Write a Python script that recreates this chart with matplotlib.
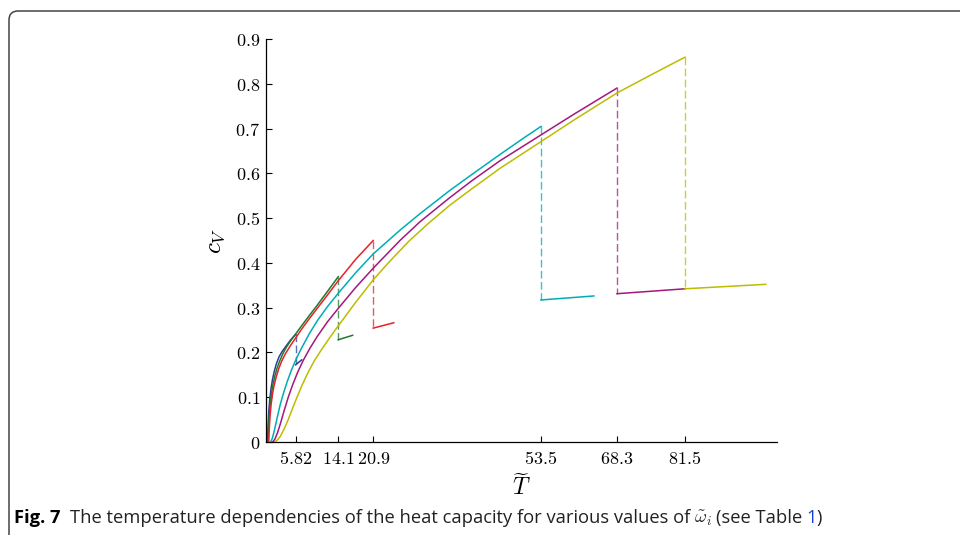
import matplotlib
matplotlib.use("Agg")
import matplotlib.pyplot as plt
from matplotlib.patches import FancyBboxPatch
from matplotlib.transforms import IdentityTransform

plt.rcParams["mathtext.fontset"] = "cm"

# transition temperatures (tick positions)
tc_ticks = [5.82, 14.1, 20.9, 53.5, 68.3, 81.5]
tc_labels = ["5.82", "14.1", "20.9", "53.5", "68.3", "81.5"]
y_ticks = [0, 0.1, 0.2, 0.3, 0.4, 0.5, 0.6, 0.7, 0.8, 0.9]

# curves below the transition
t_blue = [0.35, 0.45, 0.6, 0.8, 1.05, 1.35, 1.7, 2.1, 2.6, 3.2, 3.9, 4.8, 5.82]
c_blue = [0.0, 0.035, 0.068, 0.096, 0.12, 0.141, 0.159, 0.175, 0.19, 0.202, 0.213, 0.227, 0.24]

t_green = [0.45, 0.55, 0.7, 0.9, 1.15, 1.45, 1.8, 2.2, 2.7, 3.3, 4.0, 4.8, 5.82, 7.0, 8.4, 10.0, 12.0, 14.1]
c_green = [0.0, 0.03, 0.06, 0.087, 0.11, 0.13, 0.148, 0.164, 0.18, 0.196, 0.211, 0.225, 0.241,
           0.2595, 0.281, 0.305, 0.336, 0.369]

t_red = [0.6, 0.7, 0.85, 1.05, 1.3, 1.6, 2.0, 2.5, 3.1, 3.8, 4.7, 5.82, 7.0, 8.4, 10.0, 12.0, 14.1, 17.5, 20.9]
c_red = [0.0, 0.03, 0.058, 0.083, 0.105, 0.124, 0.143, 0.162, 0.18, 0.196, 0.213, 0.232, 0.252, 0.274,
         0.298, 0.328, 0.36, 0.408, 0.45]

t_cyan = [1.0, 1.3, 1.7, 2.2, 2.8, 3.5, 4.2, 5.0, 6.0, 7.0, 8.5, 10.0, 12.0, 14.1, 17.5, 20.9,
          26.1, 30.0, 35.8, 40.0, 45.5, 50.0, 53.5]
c_cyan = [0.0, 0.008, 0.026, 0.052, 0.082, 0.11, 0.135, 0.16, 0.187, 0.21, 0.242, 0.27, 0.302, 0.332,
          0.378, 0.42, 0.473, 0.51, 0.562, 0.597, 0.642, 0.678, 0.705]

t_mag = [1.4, 1.8, 2.3, 2.9, 3.6, 4.4, 5.2, 6.2, 7.3, 8.6, 10.0, 12.0, 14.1, 17.5, 20.9, 26.1,
         30.0, 35.8, 40.0, 45.5, 53.5, 60.0, 68.3]
c_mag = [0.0, 0.006, 0.02, 0.042, 0.07, 0.1, 0.126, 0.155, 0.182, 0.209, 0.235, 0.268, 0.298, 0.345,
         0.388, 0.45, 0.492, 0.546, 0.583, 0.628, 0.686, 0.733, 0.791]

t_yel = [1.8, 2.3, 2.9, 3.6, 4.4, 5.2, 6.1, 7.1, 8.2, 9.4, 10.8, 12.4, 14.1, 17.5, 20.9, 24.0, 27.8,
         31.5, 35.8, 40.0, 45.5, 53.5, 60.0, 68.3, 75.0, 81.5]
c_yel = [0.0, 0.004, 0.013, 0.029, 0.05, 0.074, 0.1, 0.127, 0.154, 0.18, 0.205, 0.232, 0.259, 0.312,
         0.362, 0.402, 0.448, 0.487, 0.529, 0.565, 0.611, 0.671, 0.72, 0.78, 0.821, 0.86]

# short branches above the transition: (T start, T end), (c start, c end)
t_after = [(5.82, 7.0), (14.1, 16.9), (20.9, 24.9), (53.5, 63.8), (68.3, 81.5), (81.5, 97.2)]
c_after = [(0.172, 0.183), (0.228, 0.238), (0.254, 0.266), (0.317, 0.326), (0.331, 0.342), (0.342, 0.352)]

colors = ["#2b3f9c", "#1f7a2a", "#e8202a", "#00adb5", "#a3187c", "#bcbc00"]
curves = [(t_blue, c_blue), (t_green, c_green), (t_red, c_red),
          (t_cyan, c_cyan), (t_mag, c_mag), (t_yel, c_yel)]

fig = plt.figure(figsize=(9.6, 5.35), dpi=100)
ax = fig.add_axes([265.7 / 960, 93.3 / 535, (777 - 265.7) / 960, (495.7 - 93.3) / 535])

for (t, c), ta, ca, col in zip(curves, t_after, c_after, colors):
    ax.plot(t, c, color=col, lw=1.1, solid_joinstyle="round")
    ax.plot([t[-1], t[-1]], [c[-1], ca[0]], color=col, lw=1.0, alpha=0.75,
            dashes=(5.5, 2.5))
    ax.plot(ta, ca, color=col, lw=1.1)

ax.set_xlim(0, 99.4)
ax.set_ylim(0, 0.9)
ax.set_xticks(tc_ticks)
ax.set_xticklabels([f"${s}$" for s in tc_labels], fontsize=13)
ax.set_yticks(y_ticks)
ax.set_yticklabels([f"${v:g}$" for v in y_ticks], fontsize=13)
ax.tick_params(direction="in", length=4, width=0.8, pad=4)
ax.tick_params(axis="x", pad=6)
for s in ["top", "right"]:
    ax.spines[s].set_visible(False)
for s in ["left", "bottom"]:
    ax.spines[s].set_linewidth(0.9)
ax.set_xlabel(r"$\widetilde{T}$", fontsize=17, labelpad=4)
ax.set_ylabel(r"$c_V$", fontsize=18, labelpad=6)

# rounded frame around the figure
frame = FancyBboxPatch((9, -30), 1000, 535 - 11 + 30, boxstyle="round,pad=0,rounding_size=9",
                       transform=IdentityTransform(), fill=False, ec="#444444", lw=1.1)
fig.add_artist(frame)

# caption
r = fig.canvas.get_renderer()
cap_y = 12 / 535
x = 14 / 960
parts = [("Fig. 7", "bold", "black", 9),
         ("The temperature dependencies of the heat capacity for various values of", "normal", "#222222", 4),
         (r"$\tilde{\omega}_i$", "normal", "#222222", 4),
         ("(see Table", "normal", "#222222", 4),
         ("1", "normal", "#1a3fd0", 0),
         (")", "normal", "#222222", 0)]
for txt, w, col, gap in parts:
    tt = fig.text(x, cap_y, txt, fontsize=13.2, family="Open Sans", weight=w, color=col,
                  va="baseline", ha="left")
    bb = tt.get_window_extent(renderer=r)
    x = (bb.x1 + gap) / 960

fig.savefig("out.png", dpi=100)
